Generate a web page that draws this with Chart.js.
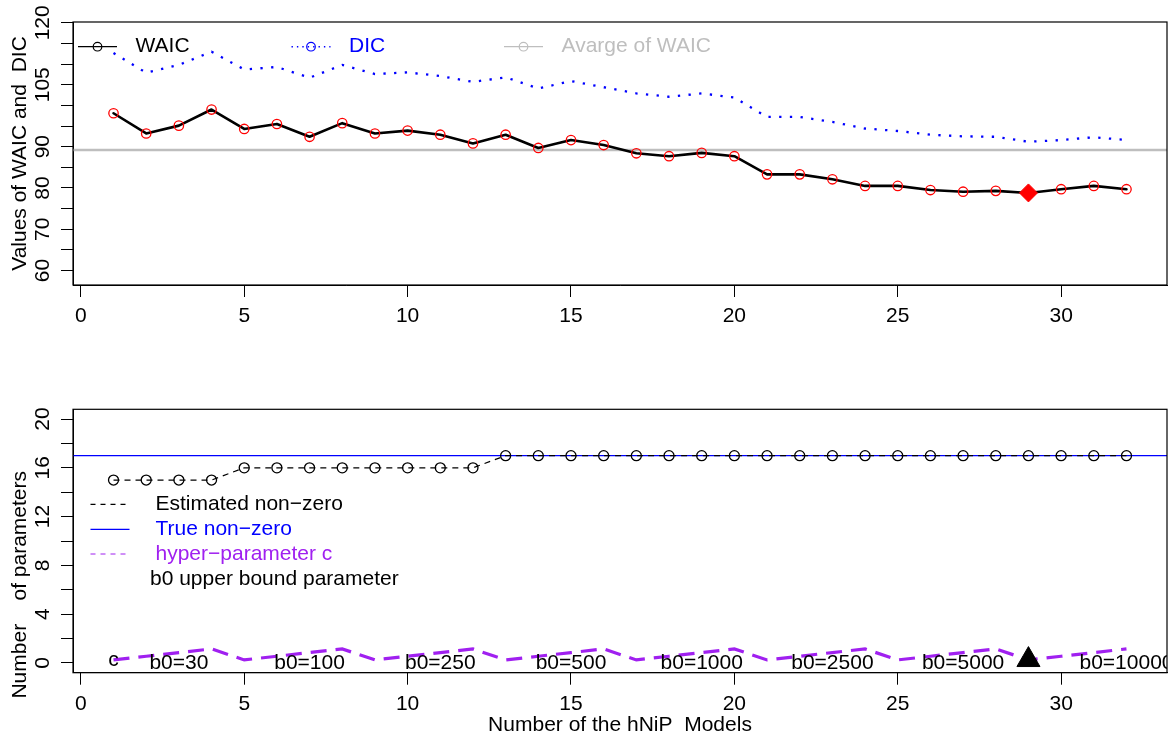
<!DOCTYPE html>
<html>
<head>
<meta charset="utf-8">
<script src="https://cdn.jsdelivr.net/npm/chart.js@4.4.1/dist/chart.umd.min.js"></script>
<style>
  html, body { margin: 0; padding: 0; background: #fff; }
  #wrap { position: relative; width: 1172px; height: 738px; }
  canvas { position: absolute; left: 0; }
  #topChart { top: 0; }
  #bottomChart { top: 369px; }
</style>
</head>
<body>
<div id="wrap">
  <canvas id="topChart" width="1172" height="369"></canvas>
  <canvas id="bottomChart" width="1172" height="369"></canvas>
</div>
<script>
// model index on the x axis
const models = [1, 2, 3, 4, 5, 6, 7, 8, 9, 10, 11, 12, 13, 14, 15, 16,
                17, 18, 19, 20, 21, 22, 23, 24, 25, 26, 27, 28, 29, 30, 31, 32];

// top panel: information criteria per model
const waic = [98.1, 93.2, 95.1, 99.0, 94.3, 95.5, 92.4, 95.7, 93.2, 93.9, 92.9, 90.8, 92.9, 89.7, 91.6, 90.4,
              88.4, 87.7, 88.5, 87.7, 83.3, 83.3, 82.1, 80.5, 80.5, 79.5, 79.1, 79.3, 78.8, 79.7, 80.5, 79.7];
const dic = [112.7, 107.9, 109.8, 113.0, 108.7, 109.3, 106.7, 109.8, 107.6, 108.0, 107.1, 105.7, 106.8, 104.1, 105.9, 104.4,
             102.9, 102.1, 102.9, 101.9, 97.2, 97.2, 96.0, 94.4, 93.8, 92.9, 92.5, 92.4, 91.2, 91.6, 92.3, 91.6];
const avgWaic = 89.2;
const bestModel = 29;

// bottom panel: parameter counts
const estNonZero = [15, 15, 15, 15, 16, 16, 16, 16, 16, 16, 16, 16, 17, 17, 17, 17,
                    17, 17, 17, 17, 17, 17, 17, 17, 17, 17, 17, 17, 17, 17, 17, 17];
const trueNonZero = 17;
const hyperC = [0.25, 0.55, 0.85, 1.15, 0.25, 0.55, 0.85, 1.15, 0.25, 0.55, 0.85, 1.15, 0.25, 0.55, 0.85, 1.15,
                0.25, 0.55, 0.85, 1.15, 0.25, 0.55, 0.85, 1.15, 0.25, 0.55, 0.85, 1.15, 0.25, 0.55, 0.85, 1.15];
const b0Labels = ['b0=30', 'b0=100', 'b0=250', 'b0=500', 'b0=1000', 'b0=2500', 'b0=5000', 'b0=10000'];
const b0LabelAt = [3, 7, 11, 15, 19, 23, 27, 32];

// axes
const xRange = [-0.24, 33.24];
const xTicks = [0, 5, 10, 15, 20, 25, 30];
const yRangeTop = [56.5, 120.2];
const yTicksTop = [60, 65, 70, 75, 80, 85, 90, 95, 100, 105, 110, 115, 120];
const yLabelsTop = [60, 70, 80, 90, 105, 120];
const yRangeBottom = [-0.8, 20.8];
const yTicksBottom = [0, 2, 4, 6, 8, 10, 12, 14, 16, 18, 20];
const yLabelsBottom = [0, 4, 8, 12, 16, 20];

const BLUE = '#0000FF';
const RED = '#FF0000';
const GREY = '#BEBEBE';
const PURPLE = '#A020F0';
const FAMILY = "'Liberation Sans', Arial, Helvetica, sans-serif";
const FONT = '21px ' + FAMILY;

Chart.defaults.font.family = FAMILY;
Chart.defaults.font.size = 21;
Chart.defaults.color = '#000';

const xy = (xs, ys) => xs.map((x, i) => ({ x: x, y: ys[i] }));

function xScale(height, title) {
  return {
    type: 'linear',
    min: xRange[0],
    max: xRange[1],
    afterBuildTicks: s => { s.ticks = xTicks.map(v => ({ value: v })); },
    afterFit: s => {
      s.height = height;
      s.paddingLeft = 0;
      s.paddingRight = 0;
    },
    ticks: { autoSkip: false, maxRotation: 0, padding: 7, color: '#000' },
    grid: { drawOnChartArea: false, tickLength: 12, color: '#000', lineWidth: 1 },
    border: { color: '#000', width: 1 },
    title: {
      display: !!title,
      text: title || '',
      color: '#000',
      padding: { top: 0, bottom: 0 }
    }
  };
}

function yScale(range, tickVals, labelVals, pad, title) {
  return {
    type: 'linear',
    min: range[0],
    max: range[1],
    afterBuildTicks: s => { s.ticks = tickVals.map(v => ({ value: v })); },
    afterFit: s => {
      s.width = 73;
      s.paddingTop = 0;
      s.paddingBottom = 0;
    },
    ticks: {
      autoSkip: false,
      minRotation: 90,
      maxRotation: 90,
      crossAlign: 'center',
      padding: pad,
      color: '#000',
      callback: v => (labelVals.includes(v) ? String(v) : '')
    },
    grid: { drawOnChartArea: false, tickLength: 12, color: '#000', lineWidth: 1 },
    border: { color: '#000', width: 1 },
    title: { display: true, text: title, color: '#000', padding: { top: 7.4, bottom: 0 } }
  };
}

// full box around the plotting region
const frame = {
  id: 'frame',
  afterDraw(chart) {
    const { ctx, chartArea: a } = chart;
    ctx.save();
    ctx.strokeStyle = '#000';
    ctx.lineWidth = 1.2;
    ctx.strokeRect(a.left, a.top, a.right - a.left, a.bottom - a.top);
    ctx.restore();
  }
};

function sample(ctx, x, y, color, width, dash, circle) {
  ctx.save();
  ctx.strokeStyle = color;
  ctx.lineWidth = width;
  ctx.setLineDash(dash);
  ctx.beginPath();
  ctx.moveTo(x, y);
  ctx.lineTo(x + 39, y);
  ctx.stroke();
  if (circle) {
    ctx.setLineDash([]);
    ctx.lineWidth = 1.2;
    ctx.beginPath();
    ctx.arc(x + 19.5, y, 4.3, 0, Math.PI * 2);
    ctx.stroke();
  }
  ctx.restore();
}

function label(ctx, text, x, y, color, align) {
  ctx.save();
  ctx.font = FONT;
  ctx.fillStyle = color;
  ctx.textAlign = align || 'left';
  ctx.textBaseline = 'middle';
  ctx.fillText(text, x, y);
  ctx.restore();
}

const topLegend = {
  id: 'topLegend',
  afterDraw(chart) {
    const ctx = chart.ctx;
    const y = 46.7;
    sample(ctx, 78, y, '#000', 1.2, [], true);
    label(ctx, 'WAIC', 135.5, y, '#000');
    sample(ctx, 291.5, y, BLUE, 1.4, [1.4, 4], true);
    label(ctx, 'DIC', 349, y, BLUE);
    sample(ctx, 504, y, GREY, 1.2, [], true);
    label(ctx, 'Avarge of WAIC', 561.5, y, GREY);
  }
};

const bottomLegend = {
  id: 'bottomLegend',
  afterDraw(chart) {
    const ctx = chart.ctx;
    sample(ctx, 90.5, 135.3, '#000', 1.2, [5, 5], false);
    label(ctx, 'Estimated non\u2212zero', 155.5, 135.3, '#000');
    sample(ctx, 90.5, 160.3, BLUE, 1.2, [], false);
    label(ctx, 'True non\u2212zero', 155.5, 160.3, BLUE);
    sample(ctx, 90.5, 185, PURPLE, 1.2, [5, 5], false);
    label(ctx, 'hyper\u2212parameter c', 155.5, 185, PURPLE);
    label(ctx, 'b0 upper bound parameter', 150, 210.3, '#000');
  }
};

// b0 group labels along the zero line, plus the "c" marker at the first model
const b0Text = {
  id: 'b0Text',
  afterDatasetsDraw(chart) {
    const { ctx, chartArea: a, scales } = chart;
    ctx.save();
    ctx.beginPath();
    ctx.rect(a.left, a.top, a.right - a.left, a.bottom - a.top);
    ctx.clip();
    b0Labels.forEach((t, i) => {
      label(ctx, t, scales.x.getPixelForValue(b0LabelAt[i]), scales.y.getPixelForValue(0), '#000', 'center');
    });
    label(ctx, 'c', scales.x.getPixelForValue(models[0]), scales.y.getPixelForValue(hyperC[0]), '#000', 'center');
    ctx.restore();
  }
};

const common = {
  responsive: false,
  animation: false,
  devicePixelRatio: 1,
  events: [],
  plugins: { legend: { display: false }, tooltip: { enabled: false } }
};

new Chart(document.getElementById('topChart'), {
  type: 'line',
  data: {
    datasets: [
      {
        data: [{ x: bestModel, y: waic[bestModel - 1] }],
        showLine: false,
        pointStyle: 'rectRot',
        pointRadius: 9,
        pointBackgroundColor: RED,
        pointBorderColor: RED,
        pointBorderWidth: 1
      },
      {
        label: 'WAIC',
        data: xy(models, waic),
        borderColor: '#000',
        borderWidth: 2.6,
        borderJoinStyle: 'round',
        borderCapStyle: 'round',
        pointRadius: 4.7,
        pointBorderColor: RED,
        pointBackgroundColor: 'rgba(0,0,0,0)',
        pointBorderWidth: 1.3
      },
      {
        label: 'DIC',
        data: xy(models, dic),
        borderColor: BLUE,
        borderWidth: 2.3,
        borderDash: [2.3, 8.4],
        pointRadius: 0
      },
      {
        label: 'Avarge of WAIC',
        data: [{ x: xRange[0], y: avgWaic }, { x: xRange[1], y: avgWaic }],
        borderColor: GREY,
        borderWidth: 2.6,
        pointRadius: 0
      }
    ]
  },
  options: Object.assign({}, common, {
    layout: { autoPadding: false, padding: { left: 0, top: 22, right: 5, bottom: 0 } },
    scales: {
      x: xScale(84, null),
      y: yScale(yRangeTop, yTicksTop, yLabelsTop, 0.2, 'Values of WAIC and  DIC')
    }
  }),
  plugins: [frame, topLegend]
});

new Chart(document.getElementById('bottomChart'), {
  type: 'line',
  data: {
    datasets: [
      {
        data: [{ x: bestModel, y: hyperC[bestModel - 1] }],
        showLine: false,
        pointStyle: 'triangle',
        pointRadius: 13.3,
        pointBackgroundColor: '#000',
        pointBorderColor: '#000',
        pointBorderWidth: 1
      },
      {
        label: 'Estimated non-zero',
        data: xy(models, estNonZero),
        borderColor: '#000',
        borderWidth: 1.2,
        borderDash: [6, 5],
        pointRadius: 5,
        pointBorderColor: '#000',
        pointBackgroundColor: 'rgba(0,0,0,0)',
        pointBorderWidth: 1.3
      },
      {
        label: 'True non-zero',
        data: [{ x: xRange[0], y: trueNonZero }, { x: xRange[1], y: trueNonZero }],
        borderColor: BLUE,
        borderWidth: 1.3,
        pointRadius: 0
      },
      {
        label: 'hyper-parameter c',
        data: xy(models, hyperC),
        borderColor: PURPLE,
        borderWidth: 3.2,
        borderDash: [16, 9],
        pointRadius: 0
      }
    ]
  },
  options: Object.assign({}, common, {
    layout: { autoPadding: false, padding: { left: 0, top: 40.3, right: 5, bottom: 0 } },
    scales: {
      x: xScale(65.3, 'Number of the hNiP  Models'),
      // trailing blanks keep the label sitting low, as in the original R output
      y: yScale(yRangeBottom, yTicksBottom, yLabelsBottom, 6, 'Number    of parameters               ')
    }
  }),
  plugins: [frame, bottomLegend, b0Text]
});
</script>
</body>
</html>
